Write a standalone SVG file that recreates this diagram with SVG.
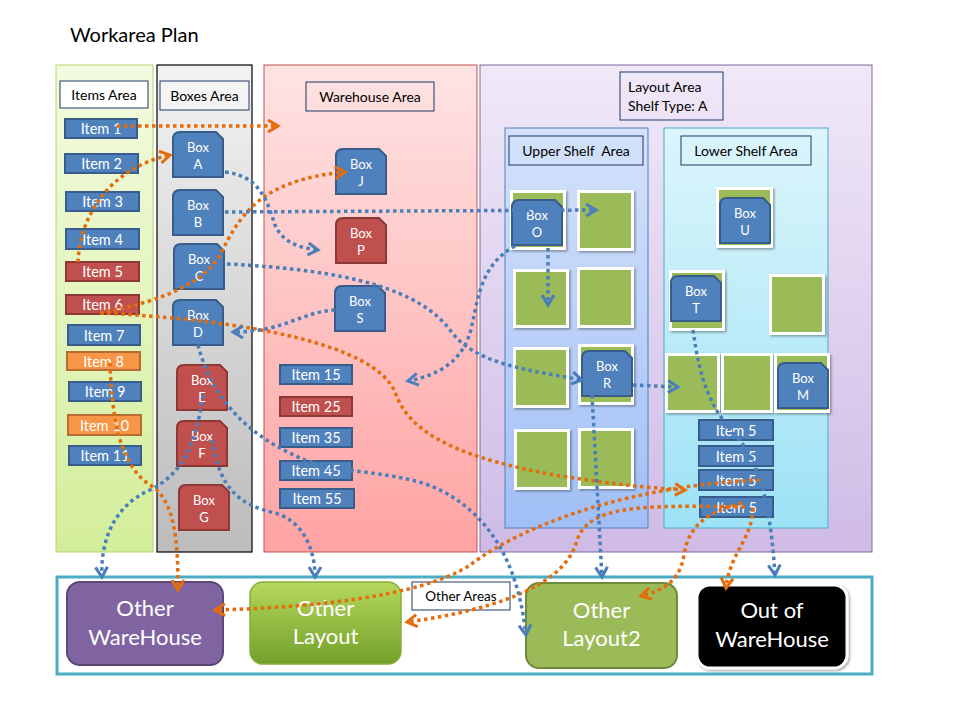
<svg xmlns="http://www.w3.org/2000/svg" xmlns:xlink="http://www.w3.org/1999/xlink" width="960" height="720" viewBox="0 0 960 720">
<style>
text{font-family:Lato,"Liberation Sans","DejaVu Sans",sans-serif}
.lbl{fill:#000;font-size:14px;text-anchor:middle}
.lbox{fill:#fff;stroke:#1f3864;stroke-width:1}
.it{stroke-width:2}
.blue{fill:#4f81bd;stroke:#385d8a}
.red{fill:#c0504d;stroke:#8c3836}
.org{fill:#f79646;stroke:#b66d31}
.itx{fill:#fff;font-size:14.5px;text-anchor:middle}
.bxt{fill:#fff;font-size:13px;text-anchor:middle}
.sq{fill:#9bbb59;stroke:#fff;stroke-width:3;filter:url(#sh)}
.big{fill:#fff;font-size:22px;text-anchor:middle}
.c{fill:none;stroke-width:3.5;stroke-dasharray:3.5 3.5}
.o{stroke:#e46c0a;marker-end:url(#ao)}
.b{stroke:#4a7ebb;marker-end:url(#ab)}
</style>
<defs>
<linearGradient id="gI" x1="0" y1="0" x2="0" y2="1"><stop offset="0" stop-color="#f3fbe0"/><stop offset="1" stop-color="#d3ee9a"/></linearGradient>
<linearGradient id="gB" x1="0" y1="0" x2="0" y2="1"><stop offset="0" stop-color="#f2f2f2"/><stop offset="1" stop-color="#bcbcbc"/></linearGradient>
<linearGradient id="gW" x1="0" y1="0" x2="0" y2="1"><stop offset="0" stop-color="#fee3e3"/><stop offset="1" stop-color="#ffa3a3"/></linearGradient>
<linearGradient id="gL" x1="0" y1="0" x2="0" y2="1"><stop offset="0" stop-color="#f0e9f8"/><stop offset="1" stop-color="#cfbbe6"/></linearGradient>
<linearGradient id="gU" x1="0" y1="0" x2="0" y2="1"><stop offset="0" stop-color="#d4e2fa"/><stop offset="1" stop-color="#a1bff6"/></linearGradient>
<linearGradient id="gLo" x1="0" y1="0" x2="0" y2="1"><stop offset="0" stop-color="#dcf5fb"/><stop offset="1" stop-color="#9de2f6"/></linearGradient>
<linearGradient id="gOL" x1="0" y1="0" x2="0" y2="1"><stop offset="0" stop-color="#b4d85c"/><stop offset="1" stop-color="#73a02a"/></linearGradient>
<filter id="sh" x="-20%" y="-20%" width="150%" height="150%"><feDropShadow dx="1.5" dy="1.5" stdDeviation="1.2" flood-opacity="0.35"/></filter>
<path id="snip" d="M0,7 Q0,0 7,0 L43,0 L50,7 L50,45 L0,45 Z"/>
<marker id="ao" markerUnits="userSpaceOnUse" markerWidth="16" markerHeight="16" viewBox="0 0 16 16" refX="12" refY="8" orient="auto"><path d="M2,2 L12,8 L2,14" fill="none" stroke="#e46c0a" stroke-width="3"/></marker>
<marker id="ab" markerUnits="userSpaceOnUse" markerWidth="16" markerHeight="16" viewBox="0 0 16 16" refX="12" refY="8" orient="auto"><path d="M2,2 L12,8 L2,14" fill="none" stroke="#4a7ebb" stroke-width="3"/></marker>
</defs>
<rect width="960" height="720" fill="#fff"/>
<text x="70" y="42" font-size="20" fill="#000">Workarea Plan</text>

<g id="items-area"><rect x="56" y="65" width="97" height="487" fill="url(#gI)" stroke="#b5d36e" stroke-width="1"/>
<rect class="lbox" x="60" y="81" width="88" height="27"/><text class="lbl" x="104" y="100">Items Area</text></g>
<g id="boxes-area"><rect x="157" y="65" width="95" height="487" fill="url(#gB)" stroke="#000" stroke-width="1.2"/>
<rect class="lbox" x="160" y="81" width="89" height="29" style="fill:#f4f4f4"/><text class="lbl" x="204.5" y="101">Boxes Area</text></g>
<g id="warehouse-area"><rect x="264" y="65" width="213" height="487" fill="url(#gW)" stroke="#c0504d" stroke-width="1"/>
<rect x="306" y="82" width="128" height="29" fill="none" stroke="#1f3864"/><text class="lbl" x="370" y="102">Warehouse Area</text></g>
<g id="layout-area"><rect x="480" y="65" width="392" height="487" fill="url(#gL)" stroke="#7f6a9f" stroke-width="1"/>
<rect x="620" y="72" width="103" height="48" fill="none" stroke="#1f3864"/><text x="628" y="92" font-size="14">Layout Area</text><text x="628" y="111" font-size="14">Shelf Type: A</text></g>
<g id="upper-shelf-area"><rect x="505" y="128" width="143" height="400" fill="url(#gU)" stroke="#4f81bd" stroke-width="1"/>
<rect x="509" y="136" width="134" height="29" fill="none" stroke="#1f3864"/><text class="lbl" x="576" y="156" style="white-space:pre">Upper Shelf  Area</text></g>
<g id="lower-shelf-area"><rect x="664" y="128" width="164" height="400" fill="url(#gLo)" stroke="#4bacc6" stroke-width="1"/>
<rect x="681" y="136" width="130" height="29" fill="none" stroke="#1f3864"/><text class="lbl" x="746" y="156">Lower Shelf Area</text></g>
<g id="other-areas"><rect x="57" y="577" width="815" height="97" fill="#fff" stroke="#4bacc6" stroke-width="3"/>
<rect x="412" y="582" width="98" height="28" fill="#fff" stroke="#1f3864"/><text class="lbl" x="461" y="601" style="font-size:13.5px">Other Areas</text></g>

<g id="shelves">
<rect class="sq" x="511.5" y="191.5" width="53" height="57"/>
<rect class="sq" x="578.5" y="191.5" width="54" height="58"/>
<rect class="sq" x="514.5" y="270.5" width="53" height="56"/>
<rect class="sq" x="578.5" y="268.5" width="54" height="58"/>
<rect class="sq" x="514.5" y="348.5" width="53" height="58"/>
<rect class="sq" x="579.5" y="345.5" width="53" height="58"/>
<rect class="sq" x="515.5" y="430.5" width="53" height="58"/>
<rect class="sq" x="579.5" y="429.5" width="53" height="58"/>
<rect class="sq" x="717.5" y="188.5" width="54" height="58"/>
<rect class="sq" x="670.5" y="271.5" width="53" height="58"/>
<rect class="sq" x="770.5" y="275.5" width="53" height="58"/>
<rect class="sq" x="666.5" y="354.5" width="52" height="57"/>
<rect class="sq" x="722.5" y="354.5" width="49" height="57"/>
<rect class="sq" x="775.5" y="354.5" width="53" height="57"/>
</g>

<g id="item-1"><rect class="it blue" x="65" y="119" width="72" height="19"/><text class="itx" x="101" y="134">Item 1</text></g>
<g id="item-2"><rect class="it blue" x="65" y="154" width="73" height="19"/><text class="itx" x="101.5" y="169">Item 2</text></g>
<g id="item-3"><rect class="it blue" x="66" y="192" width="73" height="19"/><text class="itx" x="102.5" y="207">Item 3</text></g>
<g id="item-4"><rect class="it blue" x="66" y="229" width="73" height="20"/><text class="itx" x="102.5" y="244.5">Item 4</text></g>
<g id="item-5"><rect class="it red" x="66" y="262" width="73" height="19"/><text class="itx" x="102.5" y="277">Item 5</text></g>
<g id="item-6"><rect class="it red" x="66" y="295" width="73" height="19"/><text class="itx" x="102.5" y="310">Item 6</text></g>
<g id="item-7"><rect class="it blue" x="68" y="325" width="72" height="20"/><text class="itx" x="104" y="340.5">Item 7</text></g>
<g id="item-8"><rect class="it org" x="67" y="352" width="73" height="18"/><text class="itx" x="103.5" y="366.5">Item 8</text></g>
<g id="item-9"><rect class="it blue" x="69" y="382" width="72" height="19"/><text class="itx" x="105" y="397">Item 9</text></g>
<g id="item-10"><rect class="it org" x="68" y="415" width="73" height="20"/><text class="itx" x="104.5" y="430.5">Item 10</text></g>
<g id="item-11"><rect class="it blue" x="69" y="446" width="72" height="19"/><text class="itx" x="105" y="461">Item 11</text></g>

<g id="item-15"><rect class="it blue" x="280" y="365" width="72" height="19"/><text class="itx" x="316" y="380">Item 15</text></g>
<g id="item-25"><rect class="it red" x="280" y="397" width="72" height="19"/><text class="itx" x="316" y="412">Item 25</text></g>
<g id="item-35"><rect class="it blue" x="280" y="428" width="72" height="19"/><text class="itx" x="316" y="443">Item 35</text></g>
<g id="item-45"><rect class="it blue" x="280" y="461" width="72" height="19"/><text class="itx" x="316" y="476">Item 45</text></g>
<g id="item-55"><rect class="it blue" x="280" y="489" width="74" height="19"/><text class="itx" x="317" y="504">Item 55</text></g>

<g id="item-5a"><rect class="it blue" x="699" y="420" width="74" height="20"/><text class="itx" x="736" y="435.5">Item 5</text></g>
<g id="item-5b"><rect class="it blue" x="699" y="446" width="74" height="20"/><text class="itx" x="736" y="461.5">Item 5</text></g>
<g id="item-5c"><rect class="it blue" x="699" y="470" width="74" height="20"/><text class="itx" x="736" y="485.5">Item 5</text></g>
<g id="item-5d"><rect class="it blue" x="700" y="497" width="73" height="20"/><text class="itx" x="736.5" y="512.5">Item 5</text></g>

<g id="box-a"><use xlink:href="#snip" x="173" y="132" class="it blue"/><text class="bxt" x="198" y="152">Box</text><text class="bxt" x="198" y="169">A</text></g>
<g id="box-b"><use xlink:href="#snip" x="173" y="190" class="it blue"/><text class="bxt" x="198" y="210">Box</text><text class="bxt" x="198" y="227">B</text></g>
<g id="box-c"><use xlink:href="#snip" x="174" y="244" class="it blue"/><text class="bxt" x="199" y="264">Box</text><text class="bxt" x="199" y="281">C</text></g>
<g id="box-d"><use xlink:href="#snip" x="173" y="300" class="it blue"/><text class="bxt" x="198" y="320">Box</text><text class="bxt" x="198" y="337">D</text></g>
<g id="box-e"><use xlink:href="#snip" x="177" y="365" class="it red"/><text class="bxt" x="202" y="385">Box</text><text class="bxt" x="202" y="402">E</text></g>
<g id="box-f"><use xlink:href="#snip" x="177" y="421" class="it red"/><text class="bxt" x="202" y="441">Box</text><text class="bxt" x="202" y="458">F</text></g>
<g id="box-g"><use xlink:href="#snip" x="179" y="485" class="it red"/><text class="bxt" x="204" y="505">Box</text><text class="bxt" x="204" y="522">G</text></g>
<g id="box-j"><use xlink:href="#snip" x="336" y="149" class="it blue"/><text class="bxt" x="361" y="169">Box</text><text class="bxt" x="361" y="186">J</text></g>
<g id="box-p"><use xlink:href="#snip" x="336" y="218" class="it red"/><text class="bxt" x="361" y="238">Box</text><text class="bxt" x="361" y="255">P</text></g>
<g id="box-s"><use xlink:href="#snip" x="335" y="286" class="it blue"/><text class="bxt" x="360" y="306">Box</text><text class="bxt" x="360" y="323">S</text></g>
<g id="box-o"><use xlink:href="#snip" x="512" y="200" class="it blue"/><text class="bxt" x="537" y="220">Box</text><text class="bxt" x="537" y="237">O</text></g>
<g id="box-r"><use xlink:href="#snip" x="582" y="351" class="it blue"/><text class="bxt" x="607" y="371">Box</text><text class="bxt" x="607" y="388">R</text></g>
<g id="box-u"><use xlink:href="#snip" x="720" y="198" class="it blue"/><text class="bxt" x="745" y="218">Box</text><text class="bxt" x="745" y="235">U</text></g>
<g id="box-t"><use xlink:href="#snip" x="671" y="276" class="it blue"/><text class="bxt" x="696" y="296">Box</text><text class="bxt" x="696" y="313">T</text></g>
<g id="box-m"><use xlink:href="#snip" x="778" y="363" class="it blue"/><text class="bxt" x="803" y="383">Box</text><text class="bxt" x="803" y="400">M</text></g>

<g id="other-warehouse"><rect x="67" y="582" width="156" height="83" rx="13" fill="#8064a2" stroke="#5c4776" stroke-width="2"/><text class="big" x="145" y="616">Other</text><text class="big" x="145" y="645">WareHouse</text></g>
<g id="other-layout"><rect x="250" y="582" width="151" height="82" rx="13" fill="url(#gOL)" stroke="#86ad3e" stroke-width="1.5"/><text class="big" x="325.5" y="616">Other</text><text class="big" x="325.5" y="644">Layout</text></g>
<g id="other-layout2"><rect x="526" y="583" width="151" height="85" rx="13" fill="#9bbb59" stroke="#71893f" stroke-width="2"/><text class="big" x="601.5" y="618">Other</text><text class="big" x="601.5" y="646">Layout2</text></g>
<g id="out-of-warehouse"><rect x="697" y="585" width="150" height="83" rx="13" fill="#000" stroke="#fff" stroke-width="3" filter="url(#sh)"/><text class="big" x="772" y="618">Out of</text><text class="big" x="772" y="647">WareHouse</text></g>

<g id="connectors">
<path class="c o" d="M117,126 L278,126"/>
<path class="c o" d="M78,262 C80,215 110,168 170,155"/>
<path class="c o" d="M100,313 C170,300 205,280 220,255 C240,215 260,180 345,172"/>
<path class="c o" d="M100,313 C250,320 375,345 395,392 C410,435 460,458 560,476 C620,485 650,488 685,490"/>
<path class="c o" d="M110,363 C112,420 120,465 150,485 C175,500 178,540 178,590"/>
<path class="c o" d="M760,480 C640,485 530,520 470,565 C420,598 300,608 215,610"/>
<path class="c o" d="M745,507 C640,505 590,505 577,540 C565,590 480,612 407,622"/>
<path class="c o" d="M742,503 C705,512 688,528 684,555 C680,580 665,590 641,596"/>
<path class="c o" d="M753,508 C752,540 730,552 726,588"/>
<path class="c b" d="M225,172 C262,176 268,205 275,225 C283,243 300,248 318,250"/>
<path class="c b" d="M225,212 L596,210"/>
<path class="c b" d="M227,264 C350,270 420,290 450,330 C475,365 530,370 582,380"/>
<path class="c b" d="M335,310 C300,312 285,332 233,332"/>
<path class="c b" d="M515,246 C480,265 478,300 472,325 C465,360 440,375 408,381"/>
<path class="c b" d="M548,248 L548,305"/>
<path class="c b" d="M633,385 L678,387"/>
<path class="c b" d="M198,345 C215,410 260,440 300,458 C340,475 400,470 440,490 C500,520 520,580 526,635"/>
<path class="c b" d="M203,395 C195,450 180,475 150,490 C115,505 100,540 102,577"/>
<path class="c b" d="M212,440 C220,490 240,505 275,513 C300,520 315,545 315,577"/>
<path class="c b" d="M592,395 L602,577"/>
<path class="c b" d="M693,330 C700,380 710,410 740,440 C760,470 770,500 775,575"/>
</g>
</svg>
